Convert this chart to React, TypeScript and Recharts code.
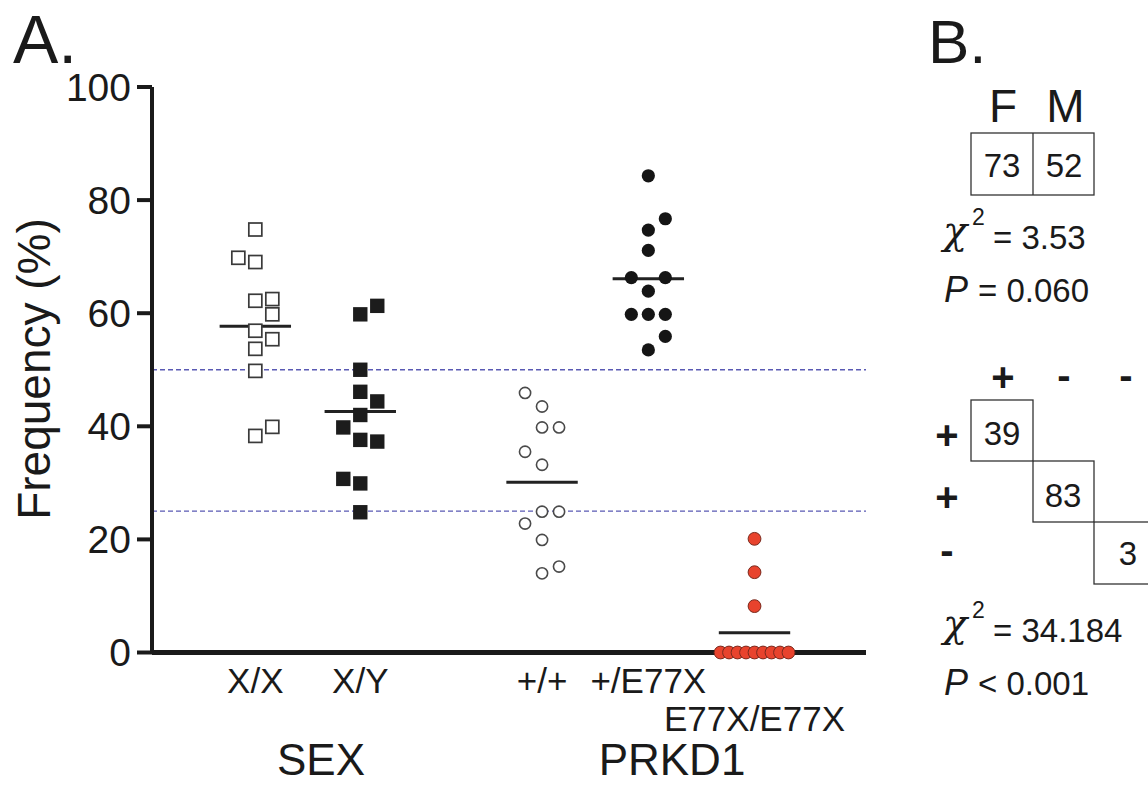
import React from "react";
import { ScatterChart, Scatter, XAxis, YAxis, ReferenceLine } from "recharts";

// groups along the x axis
const groups = ["X/X", "X/Y", "+/+", "+/E77X", "E77X/E77X"];
const groupX = [1.013, 2.042, 3.824, 4.866, 5.907];
const yTicks = [0, 20, 40, 60, 80, 100];

// frequencies (%), with their jitter column
const xxValues = [74.8, 69.8, 69.05, 62.2, 62.5, 59.8, 56.9, 55.4, 53.7, 49.8, 39.9, 38.3];
const xxSlots = [0, -2, 0, 0, 2, 2, 0, 2, 0, 0, 2, 0];
const xyValues = [61.3, 59.8, 50.0, 46.1, 44.4, 42.0, 39.8, 37.6, 37.3, 30.7, 29.9, 24.8];
const xySlots = [2, 0, 0, 0, 2, 0, -2, 0, 2, -2, 0, 0];
const wtValues = [45.9, 43.5, 39.8, 39.8, 35.5, 33.2, 24.9, 24.9, 22.8, 19.9, 15.2, 14.0];
const wtSlots = [-2, 0, 0, 2, -2, 0, 0, 2, -2, 0, 2, 0];
const hetValues = [84.3, 76.7, 74.7, 71.1, 66.3, 66.3, 63.9, 59.8, 59.8, 59.8, 55.9, 53.5];
const hetSlots = [0, 2, 0, 0, -2, 2, 0, -2, 0, 2, 2, 0];
const homValues = [20.1, 14.2, 8.2, 0, 0, 0, 0, 0, 0, 0, 0, 0];
const homSlots = [0, 0, 0, -4, -3, -2, -1, 0, 1, 2, 3, 4];

// group means (horizontal bars)
const means = [57.7, 42.6, 30.1, 66.1, 3.5];

// dashed reference levels
const refLevels = [50, 25];

const SLOT = 0.0833;
const MEAN_HALF = 0.35;
const FONT = "'Liberation Sans', Arial, sans-serif";
const INK = "#1a1a1a";

const toPoints = (gi: number, values: number[], slots: number[]) =>
  values.map((v, i) => ({ x: groupX[gi] + slots[i] * SLOT, y: v }));

const OpenSquare = (p: any) => (
  <rect x={p.cx - 6.5} y={p.cy - 6.5} width={13} height={13} fill="#fff" stroke="#3a3a3a" strokeWidth={1.7} />
);
const FilledSquare = (p: any) => (
  <rect x={p.cx - 7.2} y={p.cy - 7.2} width={14.4} height={14.4} fill="#1c1c1c" />
);
const OpenCircle = (p: any) => (
  <circle cx={p.cx} cy={p.cy} r={5.6} fill="#fff" stroke="#4a4a4a" strokeWidth={1.6} />
);
const FilledCircle = (p: any) => (
  <circle cx={p.cx} cy={p.cy} r={6.6} fill="#151515" />
);
const RedCircle = (p: any) => (
  <circle cx={p.cx} cy={p.cy} r={6.4} fill="#e8432d" stroke="#7a2a1e" strokeWidth={1} />
);

const CategoryTick = (props: any) => {
  const { x, y, payload } = props;
  const i = groupX.indexOf(payload.value);
  const lower = i === 4;
  return (
    <text x={x} y={y + (lower ? 70 : 32)} textAnchor="middle" fontSize={35} fontFamily={FONT} fill={INK}>
      {groups[i]}
    </text>
  );
};

const Chi = ({ x, y, value }: { x: number; y: number; value: string }) => (
  <g fill={INK}>
    <text x={x} y={y - 5} fontSize={40} fontStyle="italic" fontFamily="'DejaVu Serif', serif">χ</text>
    <text x={x + 29} y={y - 24} fontSize={23} fontFamily={FONT}>2</text>
    <text x={x + 50} y={y} fontSize={33} fontFamily={FONT}>{value}</text>
  </g>
);

const PValue = ({ x, y, value }: { x: number; y: number; value: string }) => (
  <g fill={INK} fontFamily={FONT}>
    <text x={x} y={y} fontSize={36} fontStyle="italic">P</text>
    <text x={x + 34} y={y} fontSize={33}>{value}</text>
  </g>
);

export default function App() {
  const series = [
    { data: toPoints(0, xxValues, xxSlots), shape: OpenSquare },
    { data: toPoints(1, xyValues, xySlots), shape: FilledSquare },
    { data: toPoints(2, wtValues, wtSlots), shape: OpenCircle },
    { data: toPoints(3, hetValues, hetSlots), shape: FilledCircle },
    { data: toPoints(4, homValues, homSlots), shape: RedCircle },
  ];

  return (
    <div style={{ position: "absolute", left: 0, top: 0, width: 1148, height: 786, background: "#fff" }}>
      <ScatterChart width={1148} height={786} margin={{ top: 87, right: 282, bottom: 73.5, left: 0 }}>
        <XAxis
          type="number"
          dataKey="x"
          domain={[0, 7]}
          ticks={groupX}
          interval={0}
          tickLine={false}
          axisLine={{ stroke: INK, strokeWidth: 5 }}
          tick={<CategoryTick />}
          height={60}
        />
        <YAxis
          type="number"
          dataKey="y"
          domain={[0, 100]}
          ticks={yTicks}
          width={152}
          tickSize={15}
          tickMargin={6}
          axisLine={{ stroke: INK, strokeWidth: 4 }}
          tickLine={{ stroke: INK, strokeWidth: 4 }}
          tick={{ fontSize: 39, fontFamily: FONT, fill: INK }}
        />
        {refLevels.map((v) => (
          <ReferenceLine key={v} y={v} stroke="#5a5ab4" strokeWidth={1.3} strokeDasharray="5 3" />
        ))}
        {means.map((m, i) => (
          <ReferenceLine
            key={"m" + i}
            segment={[
              { x: groupX[i] - MEAN_HALF, y: m },
              { x: groupX[i] + MEAN_HALF, y: m },
            ]}
            stroke="#222"
            strokeWidth={3}
          />
        ))}
        {series.map((s, i) => (
          <Scatter key={i} data={s.data} shape={s.shape} isAnimationActive={false} />
        ))}
      </ScatterChart>

      <svg width={1148} height={786} style={{ position: "absolute", left: 0, top: 0, pointerEvents: "none" }}>
        <g fill={INK} fontFamily={FONT}>
          <text x={13} y={63} fontSize={68}>A.</text>
          <text x={928} y={63} fontSize={62}>B.</text>
          <text transform="translate(50,369) rotate(-90)" textAnchor="middle" fontSize={46}>Frequency (%)</text>
          <text x={321} y={775} textAnchor="middle" fontSize={44}>SEX</text>
          <text x={672} y={775} textAnchor="middle" fontSize={44}>PRKD1</text>

          <text x={1003} y={122} textAnchor="middle" fontSize={46}>F</text>
          <text x={1065.5} y={122} textAnchor="middle" fontSize={46}>M</text>
          <text x={1002} y={177} textAnchor="middle" fontSize={33}>73</text>
          <text x={1064} y={177} textAnchor="middle" fontSize={33}>52</text>

          <text x={1003} y={391} textAnchor="middle" fontSize={40} fontWeight="bold">+</text>
          <text x={1064} y={389} textAnchor="middle" fontSize={40} fontWeight="bold">-</text>
          <text x={1126} y={389} textAnchor="middle" fontSize={40} fontWeight="bold">-</text>
          <text x={947} y={449} textAnchor="middle" fontSize={40} fontWeight="bold">+</text>
          <text x={947} y={511} textAnchor="middle" fontSize={40} fontWeight="bold">+</text>
          <text x={947} y={564} textAnchor="middle" fontSize={40} fontWeight="bold">-</text>
          <text x={1002} y={445} textAnchor="middle" fontSize={33}>39</text>
          <text x={1063} y={507} textAnchor="middle" fontSize={33}>83</text>
          <text x={1128} y={565} textAnchor="middle" fontSize={33}>3</text>
        </g>
        <g fill="none" stroke="#333" strokeWidth={1.3}>
          <rect x={971} y={133} width={123} height={62} />
          <line x1={1033} y1={133} x2={1033} y2={195} />
          <rect x={971} y={400} width={62} height={61} />
          <rect x={1033} y={461} width={61} height={61} />
          <rect x={1094} y={522} width={80} height={62} />
        </g>
        <Chi x={943} y={249} value="= 3.53" />
        <PValue x={944} y={302} value="= 0.060" />
        <Chi x={943} y={642} value="= 34.184" />
        <PValue x={944} y={695} value="< 0.001" />
      </svg>
    </div>
  );
}
